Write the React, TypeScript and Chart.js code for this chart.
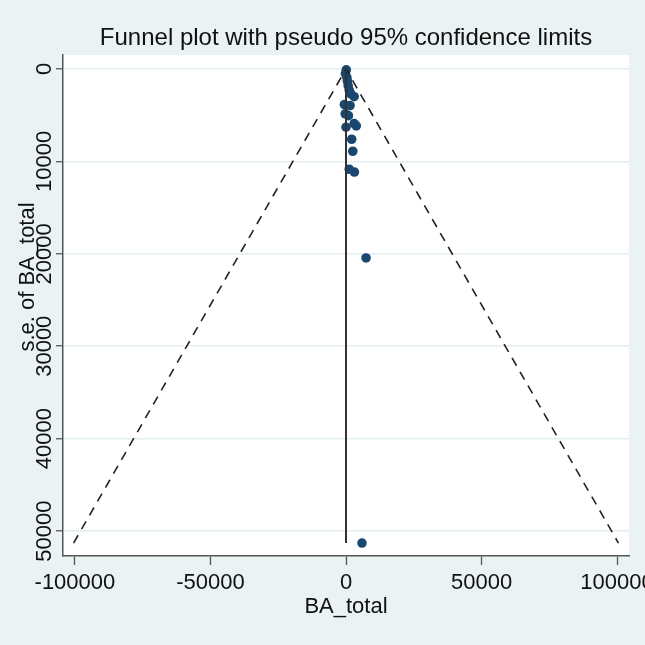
import React, { useEffect, useRef } from "react";
import { Chart, registerables } from "chart.js";

Chart.register(...registerables);

// ---- Text ----
const TITLE = "Funnel plot with pseudo 95% confidence limits";
const X_TITLE = "BA_total";
const Y_TITLE = "s.e. of BA_total";

// ---- Study data (effect estimate, standard error) ----
const effects = [100, -200, 300, 500, 800, 1200, 1800, 3000, -600, 1500, -300, 900, 3000, 3800, 0, 2100, 2500, 1200, 3100, 7400, 5900];
const stdErrors = [100, 500, 900, 1300, 1800, 2300, 2700, 3000, 3850, 3950, 4850, 5050, 5900, 6150, 6300, 7600, 8900, 10850, 11150, 20450, 51300];

// ---- Pooled estimate line and pseudo 95% limits ----
const pooledX = [0, 0];
const pooledY = [0, 51300];
const limitX = [-100500, 0, 100500];
const limitY = [51300, 0, 51300];

// ---- Axes ----
const xTicks = [-100000, -50000, 0, 50000, 100000];
const yTicks = [0, 10000, 20000, 30000, 40000, 50000];
const xRange = [-104400, 104400];
const yRange = [-1515, 52700];

const BG = "#EAF2F3";
const TEXT = "#111111";
const AXIS = "#555555";
const FONT = "'Liberation Sans', Arial, Helvetica, sans-serif";

const stataPlugin = {
  id: "stataLook",
  beforeDraw(chart: any) {
    const { ctx, chartArea: a, width, height } = chart;
    ctx.save();
    ctx.fillStyle = BG;
    ctx.fillRect(0, 0, width, height);
    ctx.fillStyle = "#ffffff";
    ctx.fillRect(a.left, a.top, a.right - a.left, a.bottom - a.top);
    ctx.restore();
  },
  afterDraw(chart: any) {
    const { ctx, chartArea: a } = chart;
    const xs = chart.scales.x;
    const ys = chart.scales.y;
    const cx = (a.left + a.right) / 2;
    ctx.save();
    ctx.fillStyle = TEXT;
    ctx.textAlign = "center";
    ctx.textBaseline = "alphabetic";
    ctx.font = `24px ${FONT}`;
    ctx.fillText(TITLE, cx, 45);
    ctx.font = `22px ${FONT}`;
    xTicks.forEach((v) => ctx.fillText(String(v), xs.getPixelForValue(v), 589));
    ctx.fillText(X_TITLE, cx, 613);
    yTicks.forEach((v) => {
      ctx.save();
      ctx.translate(51, ys.getPixelForValue(v));
      ctx.rotate(-Math.PI / 2);
      ctx.fillText(String(v), 0, 0);
      ctx.restore();
    });
    ctx.save();
    ctx.translate(34, 277);
    ctx.rotate(-Math.PI / 2);
    ctx.fillText(Y_TITLE, 0, 0);
    ctx.restore();
    ctx.restore();
  },
};

export default function App() {
  const ref = useRef<HTMLCanvasElement | null>(null);

  useEffect(() => {
    if (!ref.current) return;
    const chart = new Chart(ref.current, {
      type: "scatter",
      data: {
        datasets: [
          {
            label: "pooled",
            data: pooledX.map((x, i) => ({ x, y: pooledY[i] })),
            showLine: true,
            borderColor: "#333333",
            borderWidth: 2,
            pointRadius: 0,
            order: 1,
          },
          {
            label: "limits",
            data: limitX.map((x, i) => ({ x, y: limitY[i] })),
            showLine: true,
            borderColor: "#222222",
            borderWidth: 1.6,
            borderDash: [9, 7],
            pointRadius: 0,
            order: 1,
          },
          {
            label: "studies",
            data: effects.map((x, i) => ({ x, y: stdErrors[i] })),
            pointRadius: 4.8,
            pointHoverRadius: 4.8,
            backgroundColor: "#1A476F",
            borderWidth: 0,
            order: 2,
          },
        ],
      },
      options: {
        animation: false,
        responsive: false,
        devicePixelRatio: 1,
        layout: { padding: { top: 55, right: 16, bottom: 0, left: 0 } },
        plugins: {
          legend: { display: false },
          tooltip: { enabled: false },
          title: { display: false },
        },
        scales: {
          x: {
            type: "linear",
            min: xRange[0],
            max: xRange[1],
            afterBuildTicks: (s: any) => {
              s.ticks = xTicks.map((value) => ({ value }));
            },
            afterFit: (s: any) => {
              s.height = 89;
            },
            ticks: { display: false },
            grid: {
              drawOnChartArea: false,
              drawTicks: true,
              tickLength: 9,
              tickColor: AXIS,
              tickWidth: 1.3,
            },
            border: { display: true, color: AXIS, width: 1.5 },
          },
          y: {
            type: "linear",
            reverse: true,
            min: yRange[0],
            max: yRange[1],
            afterBuildTicks: (s: any) => {
              s.ticks = yTicks.map((value) => ({ value }));
            },
            afterFit: (s: any) => {
              s.width = 63;
            },
            ticks: { display: false },
            grid: {
              drawOnChartArea: true,
              color: "#E4EDEF",
              lineWidth: 1.5,
              drawTicks: true,
              tickLength: 7,
              tickColor: AXIS,
              tickWidth: 1.3,
            },
            border: { display: true, color: AXIS, width: 1.5 },
          },
        },
      },
      plugins: [stataPlugin],
    } as any);
    return () => chart.destroy();
  }, []);

  return (
    <div style={{ position: "absolute", left: 0, top: 0, width: 645, height: 645 }}>
      <canvas ref={ref} width={645} height={645} style={{ display: "block", width: 645, height: 645 }} />
    </div>
  );
}
